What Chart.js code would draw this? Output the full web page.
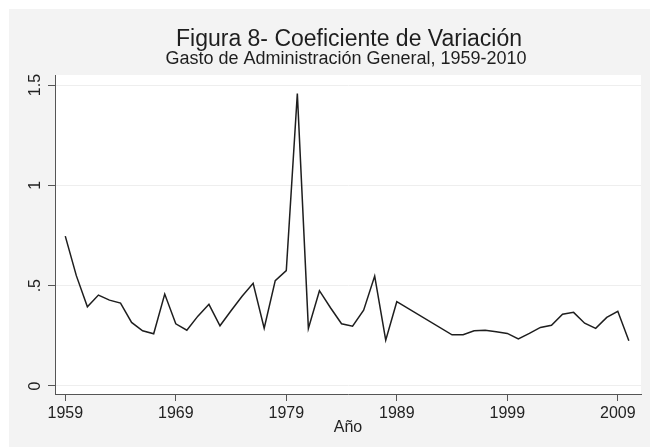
<!DOCTYPE html>
<html>
<head>
<meta charset="utf-8">
<script src="https://cdn.jsdelivr.net/npm/chart.js@4"></script>
<style>
  html, body { margin: 0; padding: 0; background: #ffffff; }
  #wrap { width: 650px; height: 447px; position: relative; }
</style>
</head>
<body>
<div id="wrap"><canvas id="c" width="650" height="447"></canvas></div>
<script>
const titleText = 'Figura 8- Coeficiente de Variación';
const subtitleText = 'Gasto de Administración General, 1959-2010';
const xAxisTitle = 'Año';

const years = [1959,1960,1961,1962,1963,1964,1965,1966,1967,1968,
               1969,1970,1971,1972,1973,1974,1975,1976,1977,1978,
               1979,1980,1981,1982,1983,1984,1985,1986,1987,1988,
               1989,1990,1991,1992,1993,1994,1995,1996,1997,1998,
               1999,2000,2001,2002,2003,2004,2005,2006,2007,2008,
               2009,2010];
const cvValues = [0.747,0.550,0.395,0.453,0.428,0.413,0.317,0.275,0.260,0.458,
                  0.310,0.278,0.348,0.407,0.300,0.375,0.447,0.512,0.288,0.525,
                  0.575,1.458,0.287,0.475,0.390,0.310,0.298,0.378,0.548,0.228,
                  0.420,null,null,null,null,0.255,0.255,0.275,0.278,0.270,
                  0.262,0.235,0.262,0.292,0.303,0.358,0.367,0.313,0.287,0.342,
                  0.372,0.225];
const xTicks = [1959,1969,1979,1989,1999,2009];
const yTicks = [0,0.5,1,1.5];
const yTickLabels = ['0','.5','1','1.5'];

const FONT = "'Liberation Sans', Arial, sans-serif";

const panelPlugin = {
  id: 'panel',
  beforeDraw(chart) {
    const ctx = chart.ctx, a = chart.chartArea;
    ctx.save();
    ctx.fillStyle = '#f3f3f3';
    ctx.fillRect(9, 9, chart.width - 9, chart.height - 9);
    ctx.fillStyle = '#ffffff';
    ctx.fillRect(a.left, a.top, a.right - a.left, a.bottom - a.top);
    ctx.restore();
  },
  afterDraw(chart) {
    const ctx = chart.ctx, a = chart.chartArea;
    const cx = (a.left + a.right) / 2;
    ctx.save();
    ctx.fillStyle = '#1e1e1e';
    ctx.textAlign = 'center';
    ctx.textBaseline = 'alphabetic';
    ctx.font = '23px ' + FONT;
    ctx.fillText(titleText, cx + 1, 46);
    ctx.font = '18px ' + FONT;
    ctx.fillText(subtitleText, cx - 2, 64);
    ctx.restore();
  }
};

new Chart(document.getElementById('c'), {
  type: 'line',
  data: {
    datasets: [{
      data: years.map((y, i) => ({ x: y, y: cvValues[i] })),
      borderColor: '#1e1e1e',
      borderWidth: 1.5,
      pointRadius: 0,
      fill: false,
      tension: 0,
      spanGaps: true
    }]
  },
  options: {
    responsive: false,
    animation: false,
    devicePixelRatio: 1,
    layout: { padding: { left: 9, right: 9, top: 75, bottom: 0 } },
    plugins: { legend: { display: false }, tooltip: { enabled: false }, title: { display: false } },
    scales: {
      x: {
        type: 'linear',
        min: 1958.07,
        max: 2011.1,
        afterBuildTicks(scale) { scale.ticks = xTicks.map(v => ({ value: v })); },
        afterFit(scale) { scale.height = 53; },
        ticks: {
          callback: (v) => String(v),
          color: '#222',
          font: { family: FONT, size: 16 },
          padding: 3,
          maxRotation: 0,
          autoSkip: false
        },
        grid: { drawOnChartArea: false, drawTicks: true, tickLength: 7, tickColor: '#555', tickWidth: 1 },
        border: { display: true, color: '#555', width: 1 },
        title: { display: true, text: xAxisTitle, color: '#222', font: { family: FONT, size: 16 }, padding: { top: 0, bottom: 10 } }
      },
      y: {
        type: 'linear',
        min: -0.04,
        max: 1.55,
        afterBuildTicks(scale) { scale.ticks = yTicks.map(v => ({ value: v })); },
        afterFit(scale) { scale.width = 46; },
        ticks: {
          callback: (v) => { const i = yTicks.indexOf(v); return i >= 0 ? yTickLabels[i] : ''; },
          color: '#222',
          font: { family: FONT, size: 16 },
          minRotation: 90,
          maxRotation: 90,
          crossAlign: 'center',
          padding: 1,
          autoSkip: false
        },
        grid: { color: '#eeeeee', lineWidth: 1, drawTicks: true, tickLength: 7, tickColor: '#555' },
        border: { display: true, color: '#555', width: 1 }
      }
    }
  },
  plugins: [panelPlugin]
});
</script>
</body>
</html>
